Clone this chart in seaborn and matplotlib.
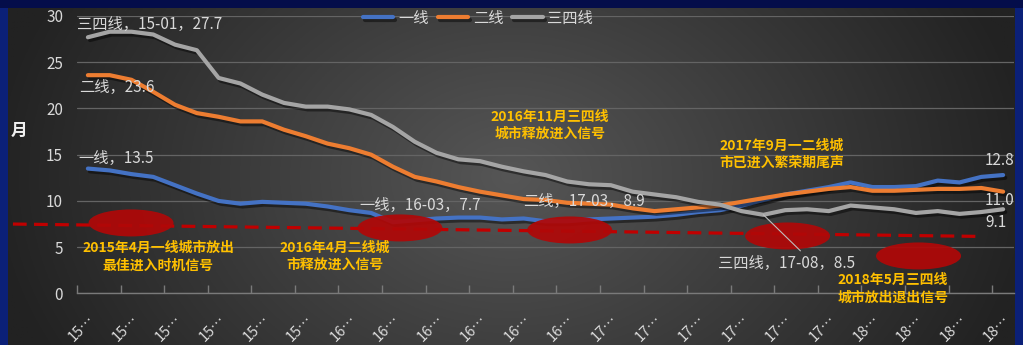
import numpy as np
import pandas as pd
import matplotlib
matplotlib.use("Agg")
import matplotlib.pyplot as plt
import matplotlib.patheffects as pe
from matplotlib.patches import Ellipse, Rectangle
import seaborn as sns

# ---------------- data ----------------
months = list(pd.period_range("2015-01", periods=43, freq="M").strftime("%y-%m"))
series_names = ["一线", "二线", "三四线"]
tier1 = [13.5, 13.3, 12.9, 12.6, 11.7, 10.8, 10.0, 9.7, 9.9, 9.8,
         9.7, 9.4, 9.0, 8.7, 7.7, 7.9, 8.1, 8.2, 8.2, 8.0,
         8.1, 7.8, 7.8, 8.0, 8.1, 8.2, 8.3, 8.5, 8.8, 9.0,
         9.5, 10.1, 10.7, 11.1, 11.5, 12.0, 11.5, 11.5, 11.6, 12.2,
         12.0, 12.6, 12.8]
tier2 = [23.6, 23.6, 23.1, 21.8, 20.4, 19.5, 19.1, 18.6, 18.6, 17.7,
         17.0, 16.2, 15.7, 15.0, 13.7, 12.6, 12.1, 11.5, 11.0, 10.6,
         10.2, 10.1, 9.8, 9.7, 9.6, 9.2, 8.9, 9.1, 9.3, 9.5,
         9.9, 10.3, 10.7, 11.0, 11.3, 11.5, 11.1, 11.1, 11.2, 11.3,
         11.3, 11.4, 11.0]
tier34 = [27.7, 28.3, 28.3, 28.0, 26.9, 26.3, 23.3, 22.7, 21.5, 20.6,
          20.2, 20.2, 19.9, 19.3, 18.0, 16.4, 15.2, 14.5, 14.3, 13.7,
          13.2, 12.8, 12.1, 11.8, 11.7, 11.0, 10.7, 10.4, 9.9, 9.6,
          8.9, 8.5, 9.0, 9.1, 8.9, 9.5, 9.3, 9.1, 8.7, 8.9,
          8.6, 8.8, 9.1]
tick_labels = [m[:2] + "…" for m in months[::2]]
y_ticks = [0, 5, 10, 15, 20, 25, 30]
notes = ["2015年4月一线城市放出\n最佳进入时机信号",
         "2016年4月二线城\n市释放进入信号",
         "2016年11月三四线\n城市释放进入信号",
         "2017年9月一二线城\n市已进入繁荣期尾声",
         "2018年5月三四线\n城市放出退出信号"]

df = pd.DataFrame({
    "idx": list(range(len(months))) * 3,
    "value": tier1 + tier2 + tier34,
    "series": [series_names[0]] * 43 + [series_names[1]] * 43 + [series_names[2]] * 43,
})

# ---------------- style ----------------
sns.set_theme(style="dark")
plt.rcParams["font.family"] = ["Noto Sans CJK SC", "DejaVu Sans"]
plt.rcParams["axes.unicode_minus"] = False

W, H = 1023, 345
fig = plt.figure(figsize=(W / 100, H / 100), dpi=100)
fig.patch.set_facecolor("#0b2078")
fig.patches.append(Rectangle((0, 1 - 8 / H), 1, 8 / H, transform=fig.transFigure,
                             facecolor="#040d4a", edgecolor="none", zorder=0))

# background radial gradient
bg = fig.add_axes([8 / W, 0, (1015 - 8) / W, (H - 8) / H])
bg.set_axis_off()
yy, xx = np.mgrid[0:1:200j, 0:1:600j]
dx = (xx - 0.5) * 2
dy = (yy - 0.5) * 2
d = np.sqrt(dx ** 2 + (0.45 * dy) ** 2)
c = np.clip(86 - 50 * d, 34, 90) / 255.0
img = np.dstack([c, c, c])
bg.imshow(img, aspect="auto", extent=[0, 1, 0, 1])
bg.set_xlim(0, 1)
bg.set_ylim(0, 1)

# main axes
x0, x1 = 77, 1014
ytop, ybot = 16, 293.4
ax = fig.add_axes([x0 / W, (H - ybot) / H, (x1 - x0) / W, (ybot - ytop) / H])
ax.patch.set_alpha(0)

palette = {"一线": "#4472C4", "二线": "#ED7D31", "三四线": "#A5A5A5"}
sns.lineplot(data=df, x="idx", y="value", hue="series", hue_order=series_names,
             palette=palette, linewidth=3.0, ax=ax, sort=False, zorder=3)
for ln in ax.lines:
    ln.set_path_effects([pe.SimpleLineShadow(offset=(1.5, -2), shadow_color="black", alpha=0.45),
                         pe.Normal()])
    ln.set_solid_capstyle("round")

ax.set_xlim(-0.5, 42.5)
ax.set_ylim(0, 30)
ax.set_yticks(y_ticks)
ax.set_yticklabels([str(v) for v in y_ticks], color="#d9d9d9", fontsize=11)
ax.tick_params(axis="y", length=0, pad=10)
ax.yaxis.grid(True, color="#646464", linewidth=0.9)
ax.xaxis.grid(False)
ax.set_axisbelow(True)

ax.set_xticks(range(0, 43, 2))
ax.set_xticklabels(tick_labels, rotation=45, ha="right", rotation_mode="anchor",
                   color="#d9d9d9", fontsize=10.5)
ax.tick_params(axis="x", which="major", length=0, pad=14)
ax.set_xticks(np.arange(-0.5, 42, 2), minor=True)
ax.tick_params(axis="x", which="minor", bottom=True, direction="in", length=6,
               width=1, color="#7a7a7a")
for s in ["top", "right", "left"]:
    ax.spines[s].set_visible(False)
ax.spines["bottom"].set_color("#7a7a7a")
ax.spines["bottom"].set_linewidth(1)
ax.set_xlabel("")
ax.set_ylabel("月", rotation=0, color="#f0f0f0", fontsize=12, fontweight="bold")
ax.yaxis.set_label_coords(-0.062, 0.553)

# legend
handles, labels = ax.get_legend_handles_labels()
leg = ax.legend(handles, labels, loc="center", bbox_to_anchor=(478 / W, (H - 18) / H),
                bbox_transform=fig.transFigure, ncol=3, frameon=False, fontsize=11,
                labelcolor="#d9d9d9", handlelength=2.0, handletextpad=0.3,
                columnspacing=0.6)
for h in leg.get_lines():
    h.set_linewidth(3)

# red trend dashed line
ax.plot([-3.44, 41.06], [7.5, 6.16], color="#C00000", lw=2.3, dashes=(4.3, 2.3),
        clip_on=False, zorder=4)

# ellipses
for (cx, cy) in [(1.98, 7.62), (14.32, 7.08), (22.11, 6.86), (32.11, 6.21), (38.12, 4.05)]:
    ax.add_patch(Ellipse((cx, cy), 3.9, 2.92, facecolor="#B00808", edgecolor="none",
                         alpha=0.93, zorder=5, clip_on=False))

# yellow notes
note_pos = [(3.22, 3.95), (11.33, 4.05), (21.2, 18.17), (31.84, 15.03), (36.93, 0.5)]
for txt, (tx, ty) in zip(notes, note_pos):
    ax.text(tx, ty, txt, color="#FFC000", fontsize=10, fontweight="bold",
            ha="center", va="center", linespacing=1.3, zorder=6, clip_on=False)

# data labels
lab_kw = dict(color="#d9d9d9", fontsize=11, va="center", zorder=6, clip_on=False)
ax.text(-0.5, 29.05, f"{series_names[2]}，{months[0]}，{tier34[0]}", ha="left", **lab_kw)
ax.text(-0.41, 22.23, f"{series_names[1]}，{tier2[0]}", ha="left", **lab_kw)
ax.text(-0.45, 14.55, f"{series_names[0]}，{tier1[0]}", ha="left", **lab_kw)
ax.text(12.48, 9.56, f"{series_names[0]}，{months[14]}，{tier1[14]}", ha="left", **lab_kw)
ax.text(19.96, 9.89, f"{series_names[1]}，{months[26]}，{tier2[26]}", ha="left", **lab_kw)
ax.text(28.9, 3.29, f"{series_names[2]}，{months[31]}，{tier34[31]}", ha="left", **lab_kw)
ax.plot([31, 32.7], [tier34[31], 4.6], color="#bfbfbf", lw=0.8, zorder=6)
ax.text(42.53, 14.33, f"{tier1[-1]}", ha="right", **lab_kw)
ax.text(42.53, 10.1, f"{tier2[-1]:.1f}", ha="right", **lab_kw)
ax.text(42.16, 7.62, f"{tier34[-1]}", ha="right", **lab_kw)

fig.savefig("out.png", dpi=100, facecolor=fig.get_facecolor())
